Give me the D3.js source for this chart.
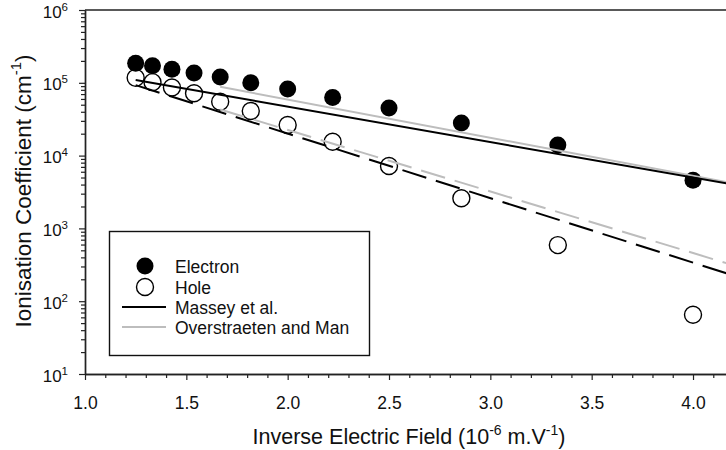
<!DOCTYPE html>
<html>
<head>
<meta charset="utf-8">
<script src="https://cdn.jsdelivr.net/npm/d3@7"></script>
<style>
  html, body { margin: 0; padding: 0; background: #fff; }
  svg { display: block; font-family: "Liberation Sans", Arial, sans-serif; }
</style>
</head>
<body>
<svg id="chart" width="726" height="450"></svg>
<script>
// Measured impact ionisation coefficients versus inverse field
const inverseField = [1.25, 1.333, 1.429, 1.538, 1.667, 1.818, 2.0, 2.222, 2.5, 2.857, 3.333, 4.0];
const electronAlpha = [1.85e5, 1.72e5, 1.53e5, 1.36e5, 1.2e5, 1.0e5, 8.2e4, 6.3e4, 4.5e4, 2.8e4, 1.4e4, 4.6e3];
const holeAlpha = [1.17e5, 1.02e5, 8.6e4, 7.2e4, 5.5e4, 4.1e4, 2.63e4, 1.55e4, 7.2e3, 2.6e3, 590, 65];

// Model curves (straight on this log / inverse-field plot)
const masseyField = [1.25, 4.2];
const masseyElectron = [1.09e5, 4.0e3];
const masseyHole = [9.3e4, 225];
const overstraetenField = [1.667, 4.2];
const overstraetenElectron = [8.8e4, 4.14e3];
const overstraetenHole = [4.3e4, 311];

const xTicks = [1.0, 1.5, 2.0, 2.5, 3.0, 3.5, 4.0];
const yExponents = [1, 2, 3, 4, 5, 6];
const legendLabels = ["Electron", "Hole", "Massey et al.", "Overstraeten and Man"];

const svg = d3.select("#chart");
const plotLeft = 85, plotTop = 10, plotBottom = 374;
const x = d3.scaleLinear().domain([1.0, 4.2]).range([plotLeft, plotLeft + 3.2 * 202.67]);
const y = d3.scaleLog().domain([10, 1e6]).range([plotBottom, plotTop]);
const axisColor = "#222";
const textColor = "#111";

svg.append("defs").append("clipPath").attr("id", "plotClip")
  .append("rect").attr("x", plotLeft).attr("y", plotTop).attr("width", 726 - plotLeft).attr("height", plotBottom - plotTop);

// Frame: top border line
svg.append("line").attr("x1", plotLeft).attr("x2", 726).attr("y1", plotTop).attr("y2", plotTop)
  .attr("stroke", axisColor).attr("stroke-width", 1.4);

// X axis with 0.5 major and 0.1 minor ticks
const xMinor = d3.range(10, 43).map(d => d / 10).filter(v => Math.abs(v * 2 - Math.round(v * 2)) > 1e-6);
const xAxisMajor = d3.axisBottom(x).tickValues(xTicks).tickSize(6).tickSizeOuter(0).tickFormat(d3.format(".1f"));
const xAxisMinor = d3.axisBottom(x).tickValues(xMinor).tickSize(4).tickSizeOuter(0).tickFormat("");
const gxMinor = svg.append("g").attr("transform", `translate(0,${plotBottom})`).call(xAxisMinor);
const gx = svg.append("g").attr("transform", `translate(0,${plotBottom})`).call(xAxisMajor);
[gx, gxMinor].forEach(g => {
  g.select(".domain").attr("stroke", axisColor).attr("stroke-width", 1.4);
  g.selectAll(".tick line").attr("stroke", axisColor).attr("stroke-width", 1.2);
});
gx.selectAll(".tick text").attr("font-size", 17.5).attr("fill", textColor).attr("dy", 0).attr("y", 35)
  .attr("font-family", "Liberation Sans, Arial, sans-serif");

// Y axis: log decades with 2..9 minor ticks
const yMajor = yExponents.map(e => Math.pow(10, e));
const yMinor = [];
for (let e = 1; e < 6; e++) for (let m = 2; m <= 9; m++) yMinor.push(m * Math.pow(10, e));
const gyMinor = svg.append("g").attr("transform", `translate(${plotLeft},0)`)
  .call(d3.axisLeft(y).tickValues(yMinor).tickSize(4).tickSizeOuter(0).tickFormat(""));
const gy = svg.append("g").attr("transform", `translate(${plotLeft},0)`)
  .call(d3.axisLeft(y).tickValues(yMajor).tickSize(6).tickSizeOuter(0).tickFormat(""));
[gy, gyMinor].forEach(g => {
  g.select(".domain").attr("stroke", axisColor).attr("stroke-width", 1.4);
  g.selectAll(".tick line").attr("stroke", axisColor).attr("stroke-width", 1.2);
});
gy.selectAll(".tick").each(function(d) {
  const t = d3.select(this).append("text").attr("x", -17).attr("y", 7)
    .attr("text-anchor", "end").attr("fill", textColor).attr("font-size", 17)
    .attr("font-family", "Liberation Sans, Arial, sans-serif");
  t.append("tspan").text("10");
  t.append("tspan").attr("font-size", 11.5).attr("dy", -7).text(Math.round(Math.log10(d)));
});

// Axis titles
const xTitle = svg.append("text").attr("x", 409).attr("y", 444).attr("text-anchor", "middle")
  .attr("font-size", 21.5).attr("fill", textColor);
xTitle.append("tspan").text("Inverse Electric Field (10");
xTitle.append("tspan").attr("font-size", 14).attr("dy", -9).text("-6");
xTitle.append("tspan").attr("dy", 9).text(" m.V");
xTitle.append("tspan").attr("font-size", 14).attr("dy", -9).text("-1");
xTitle.append("tspan").attr("dy", 9).text(")");

const yTitle = svg.append("text").attr("transform", "translate(31,191) rotate(-90)")
  .attr("text-anchor", "middle").attr("font-size", 22.5).attr("fill", textColor);
yTitle.append("tspan").text("Ionisation Coefficient (cm");
yTitle.append("tspan").attr("font-size", 15).attr("dy", -10).text("-1");
yTitle.append("tspan").attr("dy", 10).text(")");

// Data layer
const plot = svg.append("g").attr("clip-path", "url(#plotClip)");
const r = 8.5;

plot.selectAll("circle.electron").data(inverseField.map((v, i) => [v, electronAlpha[i]]))
  .join("circle").attr("class", "electron")
  .attr("cx", d => x(d[0])).attr("cy", d => y(d[1])).attr("r", r).attr("fill", "#000");

plot.selectAll("circle.hole").data(inverseField.map((v, i) => [v, holeAlpha[i]]))
  .join("circle").attr("class", "hole")
  .attr("cx", d => x(d[0])).attr("cy", d => y(d[1])).attr("r", r)
  .attr("fill", "none").attr("stroke", "#000").attr("stroke-width", 1.4);

const line = d3.line().x(d => x(d[0])).y(d => y(d[1]));
const curves = [
  { f: overstraetenField, v: overstraetenElectron, color: "#bdbdbd", dash: null },
  { f: overstraetenField, v: overstraetenHole, color: "#bdbdbd", dash: "25,10" },
  { f: masseyField, v: masseyElectron, color: "#000", dash: null },
  { f: masseyField, v: masseyHole, color: "#000", dash: "25,10" }
];
curves.forEach(c => {
  plot.append("path").datum(c.f.map((v, i) => [v, c.v[i]]))
    .attr("d", line).attr("fill", "none").attr("stroke", c.color).attr("stroke-width", 2)
    .attr("stroke-dasharray", c.dash);
});

// Legend
const lg = svg.append("g");
lg.append("rect").attr("x", 109.5).attr("y", 231.5).attr("width", 260).attr("height", 124)
  .attr("fill", "#fff").attr("stroke", "#111").attr("stroke-width", 1.4);
const rowY = [266, 287, 307, 327];
lg.append("circle").attr("cx", 145).attr("cy", rowY[0]).attr("r", r).attr("fill", "#000");
lg.append("circle").attr("cx", 145).attr("cy", rowY[1]).attr("r", r).attr("fill", "none")
  .attr("stroke", "#000").attr("stroke-width", 1.4);
lg.append("line").attr("x1", 122).attr("x2", 166).attr("y1", rowY[2]).attr("y2", rowY[2])
  .attr("stroke", "#000").attr("stroke-width", 2);
lg.append("line").attr("x1", 122).attr("x2", 166).attr("y1", rowY[3]).attr("y2", rowY[3])
  .attr("stroke", "#bdbdbd").attr("stroke-width", 2);
legendLabels.forEach((t, i) => {
  lg.append("text").attr("x", 175).attr("y", rowY[i] + 6.5).attr("font-size", 17.5)
    .attr("fill", textColor).text(t);
});
</script>
</body>
</html>
